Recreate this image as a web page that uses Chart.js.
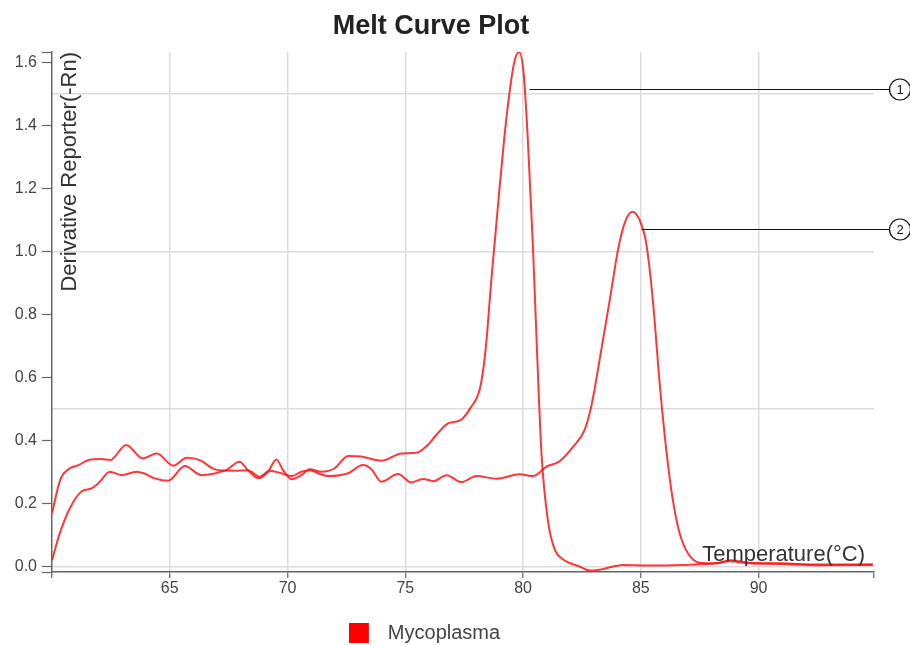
<!DOCTYPE html>
<html>
<head>
<meta charset="utf-8">
<script src="https://cdn.jsdelivr.net/npm/chart.js@4"></script>
<style>
  html, body { margin: 0; padding: 0; background: #ffffff; }
  #wrap { width: 910px; height: 645px; }
</style>
</head>
<body>
<div id="wrap"><canvas id="chart" width="910" height="645"></canvas></div>
<script>
// ---------------- data ----------------
const seriesName = 'Mycoplasma';

const curve1Temp = [60.0, 60.35, 60.7, 61.13, 61.55, 62.1, 62.47, 63.15, 63.85, 64.45, 65.15, 65.72, 66.3, 66.86, 67.33, 67.95, 68.32, 68.75, 69.17, 69.53, 69.81, 70.17, 70.59, 70.94, 71.44, 72.0, 72.57, 73.13, 73.98, 74.84, 75.47, 75.96, 76.25, 76.8, 77.35, 77.76, 78.18, 78.41, 78.65, 78.91, 79.18, 79.43, 79.64, 79.83, 80.03, 80.21, 80.42, 80.59, 80.78, 81.06, 81.34, 81.69, 82.4, 82.85, 83.25, 84.24, 85.37, 86.79, 88.2, 88.77, 89.62, 91.0, 92.45, 94.85];
const curve1Value = [0.169, 0.275, 0.309, 0.322, 0.338, 0.341, 0.338, 0.386, 0.343, 0.359, 0.32, 0.345, 0.337, 0.31, 0.305, 0.333, 0.306, 0.28, 0.301, 0.34, 0.306, 0.277, 0.29, 0.309, 0.301, 0.312, 0.351, 0.349, 0.336, 0.359, 0.361, 0.386, 0.412, 0.454, 0.465, 0.503, 0.569, 0.689, 0.907, 1.125, 1.344, 1.508, 1.606, 1.633, 1.562, 1.344, 1.016, 0.689, 0.361, 0.143, 0.055, 0.023, 0.0, -0.013, -0.01, 0.005, 0.003, 0.005, 0.01, 0.017, 0.01, 0.008, 0.004, 0.005];

const curve2Temp = [60.0, 60.33, 60.76, 61.25, 61.68, 62.03, 62.45, 62.95, 63.59, 63.9, 64.36, 64.93, 65.64, 66.35, 66.9, 67.4, 67.76, 68.32, 68.82, 69.24, 69.74, 70.17, 70.59, 70.94, 71.3, 71.72, 72.57, 73.2, 73.56, 73.98, 74.69, 75.26, 75.75, 76.2, 76.75, 77.38, 78.02, 78.87, 79.86, 80.42, 81.0, 81.55, 82.12, 82.61, 82.9, 83.32, 83.68, 84.03, 84.31, 84.64, 84.95, 85.23, 85.51, 85.8, 86.08, 86.36, 86.65, 87.0, 87.5, 88.2, 88.8, 89.6, 91.0, 92.45, 94.85];
const curve2Value = [0.02, 0.105, 0.185, 0.238, 0.248, 0.269, 0.301, 0.29, 0.301, 0.296, 0.28, 0.272, 0.319, 0.29, 0.295, 0.305, 0.304, 0.306, 0.285, 0.304, 0.296, 0.287, 0.301, 0.306, 0.296, 0.287, 0.296, 0.322, 0.309, 0.269, 0.294, 0.267, 0.278, 0.271, 0.29, 0.268, 0.287, 0.279, 0.293, 0.287, 0.317, 0.334, 0.38, 0.433, 0.51, 0.687, 0.846, 1.005, 1.09, 1.127, 1.1, 1.026, 0.846, 0.582, 0.37, 0.211, 0.105, 0.042, 0.012, 0.01, 0.02, 0.012, 0.01, 0.006, 0.007];

const xRange = [60, 94.9];
const yRange = [-0.0175, 1.634];
const xTickValues = [65, 70, 75, 80, 85, 90];
const yTickValues = [0, 0.2, 0.4, 0.6, 0.8, 1.0, 1.2, 1.4, 1.6];
const yGridValues = [0, 0.5, 1.0, 1.5];

const calloutLabels = ['1', '2'];
const calloutValueY = [1.515, 1.071];
const calloutStartX = [80.27, 85.03];

const chartTitle = 'Melt Curve Plot';
const yTitle = 'Derivative Reporter(-Rn)';
const xTitle = 'Temperature(°C)';

// ---------------- chart ----------------
const FONT = '"Liberation Sans", Arial, Helvetica, sans-serif';
const LINE_COLOR = 'rgba(255,20,20,0.85)';
const GRID_COLOR = '#dcdcdc';
const AXIS_COLOR = '#666666';

const toPoints = (xs, ys) => xs.map((x, i) => ({ x: x, y: ys[i] }));

// legend swatch: 20x20 red square followed by transparent gap
const swatch = document.createElement('canvas');
swatch.width = 29; swatch.height = 20;
(function () { const g = swatch.getContext('2d'); g.fillStyle = '#ff0000'; g.fillRect(0, 0, 20, 20); })();

const overlay = {
  id: 'overlay',
  afterLayout(chart) {
    const lg = chart.legend;
    if (lg) { lg.left -= 12.5; lg.right -= 12.5; lg.top += 8; lg.bottom += 8; }
  },
  afterDraw(chart) {
    const { ctx, chartArea, scales } = chart;
    ctx.save();
    // title
    ctx.font = 'bold 27px ' + FONT;
    ctx.fillStyle = '#222222';
    ctx.textAlign = 'center';
    ctx.textBaseline = 'alphabetic';
    ctx.fillText(chartTitle, 431, 34);
    // y axis title (inside the plot)
    ctx.save();
    ctx.translate(chartArea.left + 24, chartArea.top);
    ctx.rotate(-Math.PI / 2);
    ctx.font = '22px ' + FONT;
    ctx.fillStyle = '#333333';
    ctx.textAlign = 'right';
    ctx.textBaseline = 'alphabetic';
    ctx.fillText(yTitle, 0, 0);
    ctx.restore();
    // x axis title (inside the plot)
    ctx.font = '22px ' + FONT;
    ctx.fillStyle = '#333333';
    ctx.textAlign = 'right';
    ctx.textBaseline = 'alphabetic';
    ctx.fillText(xTitle, chartArea.right - 9, chartArea.bottom - 11);
    // callouts
    const r = 10.5;
    const cx = chartArea.right + 26;
    for (let i = 0; i < calloutLabels.length; i++) {
      const y = Math.round(scales.y.getPixelForValue(calloutValueY[i])) + 0.5;
      const x0 = scales.x.getPixelForValue(calloutStartX[i]);
      ctx.beginPath();
      ctx.strokeStyle = '#111111';
      ctx.lineWidth = 1.2;
      ctx.moveTo(x0, y);
      ctx.lineTo(cx - r, y);
      ctx.stroke();
      ctx.beginPath();
      ctx.arc(cx, y, r, 0, Math.PI * 2);
      ctx.fillStyle = '#ffffff';
      ctx.fill();
      ctx.stroke();
      ctx.font = '13px ' + FONT;
      ctx.fillStyle = '#111111';
      ctx.textAlign = 'center';
      ctx.textBaseline = 'middle';
      ctx.fillText(calloutLabels[i], cx, y + 1);
    }
    ctx.restore();
  }
};

new Chart(document.getElementById('chart').getContext('2d'), {
  type: 'line',
  data: {
    datasets: [
      { label: seriesName, data: toPoints(curve1Temp, curve1Value), borderColor: LINE_COLOR, backgroundColor: LINE_COLOR, borderWidth: 2, pointRadius: 0, cubicInterpolationMode: 'monotone', fill: false },
      { label: seriesName, data: toPoints(curve2Temp, curve2Value), borderColor: LINE_COLOR, backgroundColor: LINE_COLOR, borderWidth: 2, pointRadius: 0, cubicInterpolationMode: 'monotone', fill: false }
    ]
  },
  options: {
    responsive: false,
    animation: false,
    devicePixelRatio: 1,
    layout: { padding: { top: 52, right: 36, left: 0, bottom: 0 } },
    plugins: {
      title: { display: false },
      tooltip: { enabled: false },
      legend: {
        display: true,
        position: 'bottom',
        labels: {
          usePointStyle: true,
          pointStyleWidth: 29,
          boxHeight: 20,
          padding: 3,
          color: '#444444',
          font: { family: FONT, size: 20 },
          generateLabels: () => [{ text: seriesName, fillStyle: '#ff0000', strokeStyle: '#ff0000', lineWidth: 0, hidden: false, datasetIndex: 0, pointStyle: swatch, fontColor: '#444444' }]
        }
      }
    },
    scales: {
      x: {
        type: 'linear',
        min: xRange[0],
        max: xRange[1],
        afterBuildTicks: (s) => { s.ticks = [xRange[0]].concat(xTickValues, [xRange[1]]).map(v => ({ value: v })); },
        afterFit: (s) => { s.height = 40; },
        ticks: {
          autoSkip: false, maxRotation: 0, minRotation: 0, padding: 1,
          color: '#444444', font: { family: FONT, size: 16 },
          callback: (v) => (xTickValues.includes(v) ? String(v) : '')
        },
        grid: {
          color: (c) => (c.tick && xTickValues.includes(c.tick.value) ? GRID_COLOR : 'rgba(0,0,0,0)'),
          lineWidth: 1.5,
          tickColor: AXIS_COLOR,
          tickLength: 6,
          tickWidth: 1.2
        },
        border: { color: AXIS_COLOR, width: 1.5 }
      },
      y: {
        type: 'linear',
        position: 'left',
        min: yRange[0],
        max: yRange[1],
        afterBuildTicks: (s) => { s.ticks = [yRange[0]].concat(yTickValues, [yRange[1]]).map(v => ({ value: v })); },
        afterFit: (s) => { s.width = 52; },
        ticks: {
          padding: 5,
          color: '#444444', font: { family: FONT, size: 16 },
          callback: (v) => (yTickValues.includes(v) ? v.toFixed(1) : '')
        },
        grid: { drawOnChartArea: false, drawTicks: true, tickLength: 10, tickColor: AXIS_COLOR, tickWidth: 1.2 },
        border: { color: AXIS_COLOR, width: 1.5 }
      },
      yGrid: {
        type: 'linear',
        position: 'left',
        min: yRange[0],
        max: yRange[1],
        afterBuildTicks: (s) => { s.ticks = yGridValues.map(v => ({ value: v })); },
        afterFit: (s) => { s.width = 0; },
        ticks: { display: false },
        grid: { color: GRID_COLOR, lineWidth: 1.5, drawTicks: false },
        border: { display: false }
      }
    }
  },
  plugins: [overlay]
});
</script>
</body>
</html>
